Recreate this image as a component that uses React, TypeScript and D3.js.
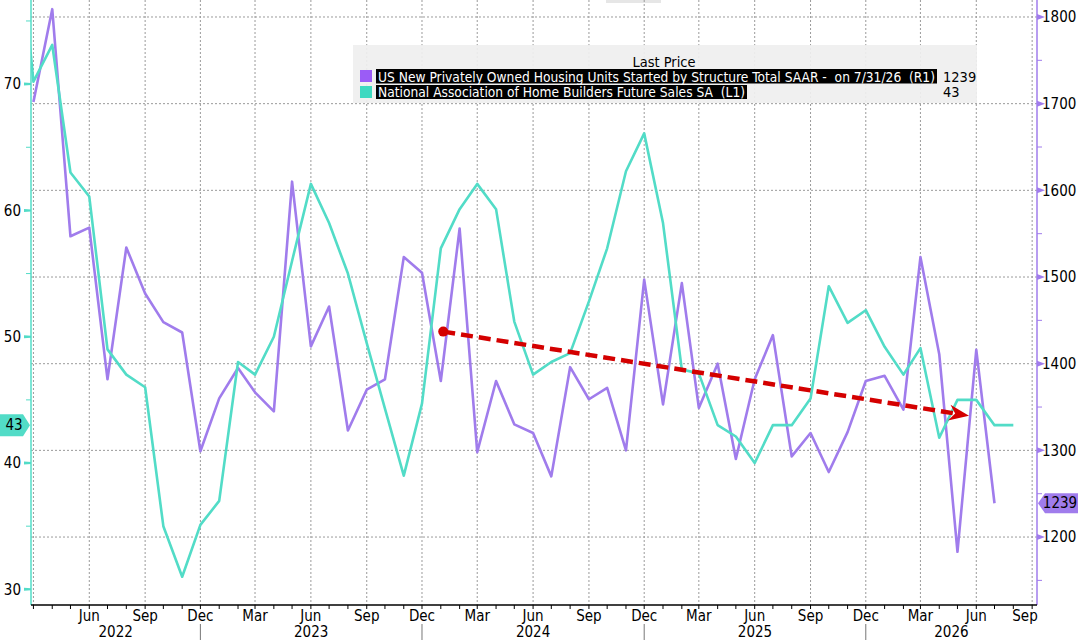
import React from 'react';
import * as d3 from 'd3';

// monthly points, Feb 2022 .. Aug 2026
const months = [
    '2022-02', '2022-03', '2022-04', '2022-05', '2022-06', '2022-07', '2022-08', '2022-09', '2022-10', '2022-11', '2022-12',
    '2023-01', '2023-02', '2023-03', '2023-04', '2023-05', '2023-06', '2023-07', '2023-08', '2023-09', '2023-10', '2023-11', '2023-12',
    '2024-01', '2024-02', '2024-03', '2024-04', '2024-05', '2024-06', '2024-07', '2024-08', '2024-09', '2024-10', '2024-11', '2024-12',
    '2025-01', '2025-02', '2025-03', '2025-04', '2025-05', '2025-06', '2025-07', '2025-08', '2025-09', '2025-10', '2025-11', '2025-12',
    '2026-01', '2026-02', '2026-03', '2026-04', '2026-05', '2026-06', '2026-07', '2026-08'
];

// NAHB future sales (left axis)
const nahbFutureSales = [
    84, 70.2, 73.1, 63.0, 61.1, 49.0, 47.0, 46.0, 35.0, 31.0, 35.1,
    37.0, 48.0, 47.0, 50.0, 56.0, 62.1, 59.0, 55.0, 49.5, 44.3, 39.0, 44.7,
    57.0, 60.1, 62.1, 60.1, 51.2, 47.0, 48.0, 48.7, 52.8, 57.0, 63.1, 66.1,
    59.0, 47.4, 47.1, 43.0, 42.1, 40.0, 43.0, 43.0, 45.1, 54.0, 51.1, 52.1,
    49.2, 47.0, 49.1, 42.0, 45.0, 45.0, 43.0, 43.0
];

// housing starts SAAR (right axis), Mar 2022 .. Jul 2026
const housingMonths = months.slice(1, 54);
const housingStarts = [
    1702, 1809, 1547, 1557, 1382, 1534, 1481, 1448, 1436, 1299,
    1360, 1395, 1367, 1345, 1610, 1420, 1466, 1323, 1370, 1382, 1523, 1505,
    1380, 1556, 1298, 1380, 1330, 1320, 1270, 1396, 1359, 1372, 1300, 1497,
    1353, 1493, 1349, 1400, 1290, 1382, 1433, 1293, 1320, 1275, 1321, 1380,
    1386, 1347, 1523, 1411, 1183, 1416, 1239
];

const trendStart = { date: '2024-01-05', value: 1437 };
const trendEnd = { date: '2026-05-20', value: 1340 };

const legendTitle = 'Last Price';
const housingLabel = 'US New Privately Owned Housing Units Started by Structure Total SAAR -  on 7/31/26  (R1)';
const nahbLabel = 'National Association of Home Builders Future Sales SA  (L1)';
const housingLast = '1239';
const nahbLast = '43';

const FONT = "'Liberation Sans Narrow', 'DejaVu Sans Condensed', sans-serif";
const PURPLE = '#a07cec';
const CYAN = '#52dcc7';
const RED = '#d40000';

const App = () => {
    const svgWidth = 1080;
    const svgHeight = 643;
    const left = 31, right = 1037, top = 0, bottom = 605;

    const parse = d3.timeParse('%Y-%m');
    const parseDay = d3.timeParse('%Y-%m-%d');

    const x = d3.scaleTime().domain([new Date(2022, 1, 25), new Date(2026, 8, 9)]).range([left, right]);
    const yL = d3.scaleLinear().domain([28.76, 76.66]).range([bottom, top]);
    const yR = d3.scaleLinear().domain([1121.6, 1819.6]).range([bottom, top]);

    const nahbData: [Date, number][] = months.map((m, i) => [parse(m), nahbFutureSales[i]]);
    const housingData: [Date, number][] = housingMonths.map((m, i) => [parse(m), housingStarts[i]]);

    const lineL = d3.line<[Date, number]>().x(d => x(d[0])).y(d => yL(d[1]));
    const lineR = d3.line<[Date, number]>().x(d => x(d[0])).y(d => yR(d[1]));

    const monthTicks = d3.timeMonth.range(x.domain()[0], x.domain()[1]);
    const quarterTicks = monthTicks.filter(d => d.getMonth() % 3 === 2);
    const quarterLabels = quarterTicks.filter(d => x(d) > left + 20);
    const decTicks = monthTicks.filter(d => d.getMonth() === 11);
    const bounds = [left, ...decTicks.map(d => x(d)), right];
    const years = d3.range(2022, 2022 + bounds.length - 1);

    const rightMajor = yR.ticks(7);
    const rightMinor = yR.ticks(14).filter(v => v % 100 !== 0);
    const leftMajor = yL.ticks(5);
    const leftMinor = yL.ticks(10).filter(v => v % 10 !== 0);

    // trend arrow
    const x0 = x(parseDay(trendStart.date)), y0 = yR(trendStart.value);
    const x1 = x(parseDay(trendEnd.date)), y1 = yR(trendEnd.value);
    const ang = Math.atan2(y1 - y0, x1 - x0);
    const headLen = 20, headW = 8, notch = 6;
    const pt = (dx: number, dy: number) => [x1 + dx * Math.cos(ang) - dy * Math.sin(ang), y1 + dx * Math.sin(ang) + dy * Math.cos(ang)];
    const hb1 = pt(-headLen, -headW), hb2 = pt(-headLen, headW), hn = pt(-headLen + notch, 0);
    const head = `M${x1},${y1}L${hb1[0]},${hb1[1]}L${hn[0]},${hn[1]}L${hb2[0]},${hb2[1]}Z`;

    const nahbY = yL(+nahbLast);
    const housingY = yR(+housingLast);

    return (
        <div style={{ position: 'fixed', left: 0, top: 0, width: svgWidth, height: svgHeight, background: '#fff' }}>
            <svg width={svgWidth} height={svgHeight} style={{ display: 'block', fontFamily: FONT }}>
                <defs>
                    <clipPath id="plot"><rect x={left} y={top} width={right - left} height={bottom - top} /></clipPath>
                </defs>
                <rect x={606} y={0} width={55} height={3} fill="#e6e6e6" />

                {/* grid */}
                <g stroke="#9a9a9a" strokeWidth={1} strokeDasharray="2,2">
                    {rightMajor.map(v => <line key={'h' + v} x1={left} x2={right} y1={yR(v)} y2={yR(v)} />)}
                    {quarterTicks.map(d => <line key={'v' + d.getTime()} x1={x(d)} x2={x(d)} y1={top} y2={bottom} />)}
                </g>

                {/* legend */}
                <g style={{ whiteSpace: 'pre' }}>
                    <rect x={353} y={45} width={624} height={58} fill="#efefef" opacity={0.92} />
                    <text x={664} y={62} dy="0.35em" textAnchor="middle" fontSize={14.5} fill="#000">{legendTitle}</text>
                    <rect x={360} y={70} width={12} height={12} fill="#9b5cf6" />
                    <rect x={376} y={69} width={561} height={14.5} fill="#000" />
                    <text x={378} y={76.5} dy="0.35em" fontSize={14.5} fill="#fff" textLength={557} lengthAdjust="spacingAndGlyphs" xmlSpace="preserve">{housingLabel}</text>
                    <text x={943} y={76.5} dy="0.35em" fontSize={14.5} fill="#000">{housingLast}</text>
                    <rect x={360} y={86} width={12} height={12} fill="#3dd9c1" />
                    <rect x={376} y={85} width={371} height={14} fill="#000" />
                    <text x={378} y={92} dy="0.35em" fontSize={14.5} fill="#fff" textLength={367} lengthAdjust="spacingAndGlyphs" xmlSpace="preserve">{nahbLabel}</text>
                    <text x={943} y={92} dy="0.35em" fontSize={14.5} fill="#000">{nahbLast}</text>
                </g>

                {/* series */}
                <g clipPath="url(#plot)" fill="none" strokeWidth={2.6} strokeLinejoin="round">
                    <path d={lineR(housingData)} stroke={PURPLE} />
                    <path d={lineL(nahbData)} stroke={CYAN} />
                </g>

                {/* trend arrow */}
                <g>
                    <line x1={x0} y1={y0} x2={hn[0]} y2={hn[1]} stroke={RED} strokeWidth={4.5} strokeDasharray="12,6" />
                    <circle cx={x0} cy={y0} r={5} fill={RED} />
                    <path d={head} fill={RED} />
                </g>

                {/* axes */}
                <line x1={left} x2={left} y1={top} y2={bottom} stroke={CYAN} strokeWidth={1.5} />
                <line x1={right} x2={right} y1={top} y2={bottom} stroke={PURPLE} strokeWidth={1.5} />
                <line x1={left} x2={right} y1={bottom} y2={bottom} stroke="#000" strokeWidth={1.5} />

                {monthTicks.map(d => <line key={'mt' + d.getTime()} x1={x(d)} x2={x(d)} y1={bottom} y2={bottom + 4} stroke="#000" />)}
                {quarterLabels.map(d => (
                    <text key={'ml' + d.getTime()} x={Math.min(x(d), right - 12)} y={621} textAnchor="middle" fontSize={15} fill="#000">{d3.timeFormat('%b')(d)}</text>
                ))}
                {decTicks.map(d => <line key={'ys' + d.getTime()} x1={x(d)} x2={x(d)} y1={624} y2={640} stroke="#777" />)}
                {years.map((yr, i) => (
                    <text key={'yl' + yr} x={(bounds[i] + bounds[i + 1]) / 2} y={637} textAnchor="middle" fontSize={15} fill="#000">{yr}</text>
                ))}

                {leftMajor.map(v => (
                    <g key={'lm' + v}>
                        <path d={`M${left},${yL(v) - 1}L${left - 7},${yL(v) - 1.5}L${left - 7},${yL(v) + 1.5}L${left},${yL(v) + 1}Z`} fill={CYAN} />
                        <text x={21} y={yL(v)} dy="0.35em" textAnchor="end" fontSize={15} fill="#000">{v}</text>
                    </g>
                ))}
                {leftMinor.map(v => <line key={'ln' + v} x1={left - 5} x2={left} y1={yL(v)} y2={yL(v)} stroke={CYAN} strokeWidth={1} />)}

                {rightMajor.map(v => (
                    <g key={'rm' + v}>
                        <path d={`M${right},${yR(v) - 3}L${right + 8},${yR(v)}L${right},${yR(v) + 3}Z`} fill={PURPLE} />
                        <text x={1042} y={yR(v)} dy="0.35em" fontSize={15} fill="#000">{v}</text>
                    </g>
                ))}
                {rightMinor.map(v => <line key={'rn' + v} x1={right} x2={right + 5} y1={yR(v)} y2={yR(v)} stroke={PURPLE} strokeWidth={1} />)}

                {/* last value flags */}
                <path d={`M0,${nahbY - 11}H23L30,${nahbY}L23,${nahbY + 11}H0Z`} fill={CYAN} />
                <text x={14} y={nahbY} dy="0.35em" textAnchor="middle" fontSize={15} fill="#000">{nahbLast}</text>
                <path d={`M1038,${housingY}L1045,${housingY - 10}H1078V${housingY + 10}H1045Z`} fill={PURPLE} />
                <text x={1060} y={housingY} dy="0.35em" textAnchor="middle" fontSize={15} fill="#000">{housingLast}</text>
            </svg>
        </div>
    );
};

export default App;
